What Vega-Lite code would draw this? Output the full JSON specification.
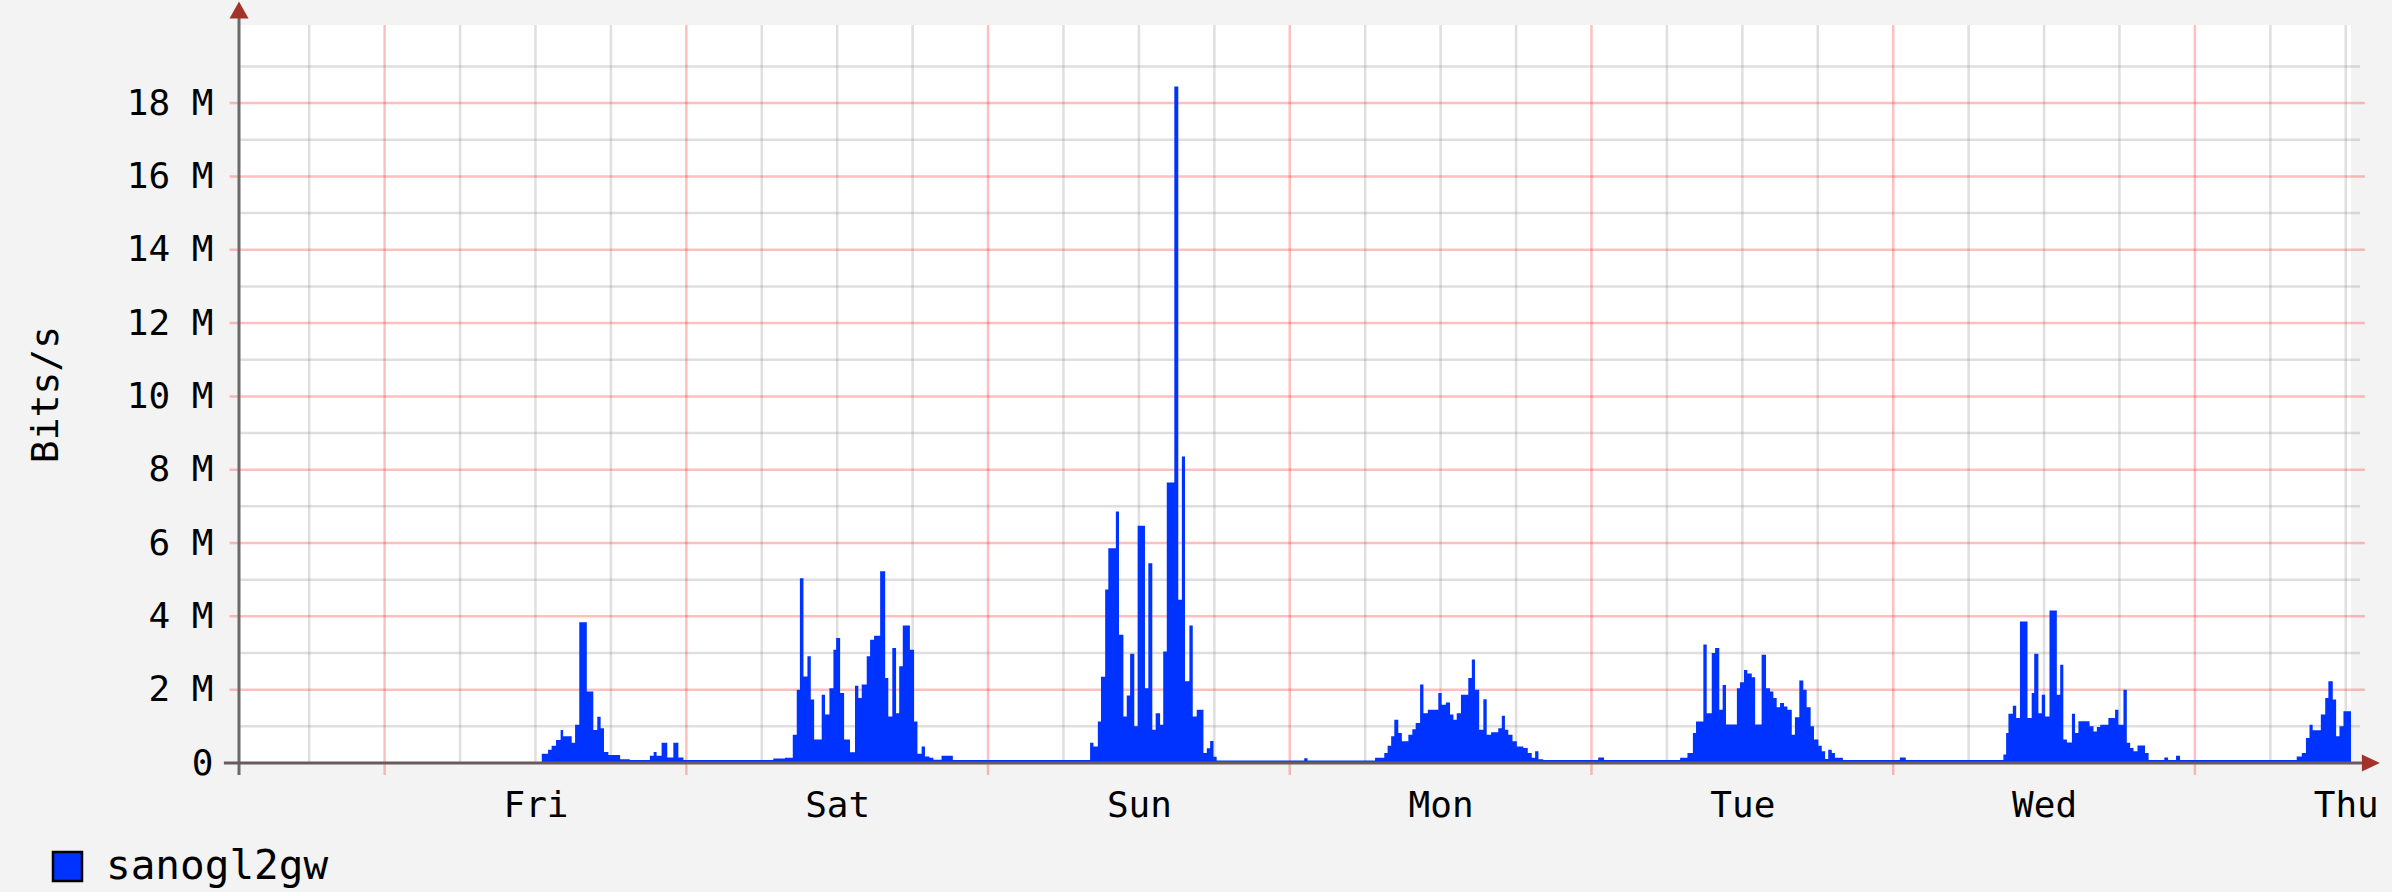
{
  "$schema": "https://vega.github.io/schema/vega-lite/v6.json",
  "width": 2112,
  "height": 738,
  "autosize": {"type": "none"},
  "padding": {"left": 239, "top": 25, "right": 41, "bottom": 129},
  "background": "#f3f3f3",
  "config": {"view": {"fill": "white", "stroke": null}, "font": "DejaVu Sans Mono"},
  "datasets": {
    "series": [
      {"t": "2008-07-31T12:25:00Z", "v": 0},
      {"t": "2008-08-01T12:30:00Z", "v": 0.25},
      {"t": "2008-08-01T13:00:00Z", "v": 0.36},
      {"t": "2008-08-01T13:17:00Z", "v": 0.47},
      {"t": "2008-08-01T13:38:00Z", "v": 0.63},
      {"t": "2008-08-01T14:00:00Z", "v": 0.9},
      {"t": "2008-08-01T14:12:00Z", "v": 0.73},
      {"t": "2008-08-01T14:53:00Z", "v": 0.55},
      {"t": "2008-08-01T15:09:00Z", "v": 1.04},
      {"t": "2008-08-01T15:29:00Z", "v": 3.84},
      {"t": "2008-08-01T16:05:00Z", "v": 1.95},
      {"t": "2008-08-01T16:36:00Z", "v": 0.9},
      {"t": "2008-08-01T16:55:00Z", "v": 1.26},
      {"t": "2008-08-01T17:11:00Z", "v": 0.95},
      {"t": "2008-08-01T17:27:00Z", "v": 0.3},
      {"t": "2008-08-01T17:48:00Z", "v": 0.22},
      {"t": "2008-08-01T18:44:00Z", "v": 0.1},
      {"t": "2008-08-01T19:30:00Z", "v": 0.08},
      {"t": "2008-08-01T21:06:00Z", "v": 0.2},
      {"t": "2008-08-01T21:24:00Z", "v": 0.3},
      {"t": "2008-08-01T21:38:00Z", "v": 0.2},
      {"t": "2008-08-01T22:02:00Z", "v": 0.55},
      {"t": "2008-08-01T22:29:00Z", "v": 0.15},
      {"t": "2008-08-01T22:58:00Z", "v": 0.55},
      {"t": "2008-08-01T23:22:00Z", "v": 0.15},
      {"t": "2008-08-01T23:46:00Z", "v": 0.08},
      {"t": "2008-08-02T06:55:00Z", "v": 0.12},
      {"t": "2008-08-02T07:51:00Z", "v": 0.14},
      {"t": "2008-08-02T08:28:00Z", "v": 0.77},
      {"t": "2008-08-02T08:47:00Z", "v": 2.0},
      {"t": "2008-08-02T09:02:00Z", "v": 5.04},
      {"t": "2008-08-02T09:19:00Z", "v": 2.36},
      {"t": "2008-08-02T09:38:00Z", "v": 2.91},
      {"t": "2008-08-02T09:54:00Z", "v": 1.73},
      {"t": "2008-08-02T10:10:00Z", "v": 0.64},
      {"t": "2008-08-02T10:46:00Z", "v": 1.86},
      {"t": "2008-08-02T11:02:00Z", "v": 1.32},
      {"t": "2008-08-02T11:23:00Z", "v": 2.04},
      {"t": "2008-08-02T11:42:00Z", "v": 3.09},
      {"t": "2008-08-02T11:55:00Z", "v": 3.41},
      {"t": "2008-08-02T12:14:00Z", "v": 1.91},
      {"t": "2008-08-02T12:33:00Z", "v": 0.64},
      {"t": "2008-08-02T13:01:00Z", "v": 0.29},
      {"t": "2008-08-02T13:25:00Z", "v": 2.11},
      {"t": "2008-08-02T13:41:00Z", "v": 1.77},
      {"t": "2008-08-02T13:57:00Z", "v": 2.14},
      {"t": "2008-08-02T14:21:00Z", "v": 2.91},
      {"t": "2008-08-02T14:37:00Z", "v": 3.36},
      {"t": "2008-08-02T14:56:00Z", "v": 3.47},
      {"t": "2008-08-02T15:25:00Z", "v": 5.23},
      {"t": "2008-08-02T15:49:00Z", "v": 2.32},
      {"t": "2008-08-02T16:04:00Z", "v": 1.27},
      {"t": "2008-08-02T16:23:00Z", "v": 3.14},
      {"t": "2008-08-02T16:41:00Z", "v": 1.36},
      {"t": "2008-08-02T16:56:00Z", "v": 2.64},
      {"t": "2008-08-02T17:13:00Z", "v": 3.75},
      {"t": "2008-08-02T17:47:00Z", "v": 3.09},
      {"t": "2008-08-02T18:07:00Z", "v": 1.13},
      {"t": "2008-08-02T18:23:00Z", "v": 0.25},
      {"t": "2008-08-02T18:43:00Z", "v": 0.45},
      {"t": "2008-08-02T18:59:00Z", "v": 0.18},
      {"t": "2008-08-02T19:20:00Z", "v": 0.14},
      {"t": "2008-08-02T19:39:00Z", "v": 0.09},
      {"t": "2008-08-02T20:18:00Z", "v": 0.2},
      {"t": "2008-08-02T21:12:00Z", "v": 0.08},
      {"t": "2008-08-03T08:07:00Z", "v": 0.55},
      {"t": "2008-08-03T08:23:00Z", "v": 0.45},
      {"t": "2008-08-03T08:44:00Z", "v": 1.13},
      {"t": "2008-08-03T08:59:00Z", "v": 2.35},
      {"t": "2008-08-03T09:19:00Z", "v": 4.73},
      {"t": "2008-08-03T09:34:00Z", "v": 5.86},
      {"t": "2008-08-03T10:10:00Z", "v": 6.86},
      {"t": "2008-08-03T10:25:00Z", "v": 3.5},
      {"t": "2008-08-03T10:46:00Z", "v": 1.27},
      {"t": "2008-08-03T11:02:00Z", "v": 1.84},
      {"t": "2008-08-03T11:18:00Z", "v": 2.98},
      {"t": "2008-08-03T11:38:00Z", "v": 1.0},
      {"t": "2008-08-03T11:54:00Z", "v": 6.47},
      {"t": "2008-08-03T12:29:00Z", "v": 2.04},
      {"t": "2008-08-03T12:45:00Z", "v": 5.45},
      {"t": "2008-08-03T13:04:00Z", "v": 0.91},
      {"t": "2008-08-03T13:20:00Z", "v": 1.36},
      {"t": "2008-08-03T13:41:00Z", "v": 1.04},
      {"t": "2008-08-03T13:56:00Z", "v": 3.04},
      {"t": "2008-08-03T14:13:00Z", "v": 7.65},
      {"t": "2008-08-03T14:49:00Z", "v": 18.45},
      {"t": "2008-08-03T15:08:00Z", "v": 4.45},
      {"t": "2008-08-03T15:25:00Z", "v": 8.36},
      {"t": "2008-08-03T15:40:00Z", "v": 2.23},
      {"t": "2008-08-03T16:01:00Z", "v": 3.75},
      {"t": "2008-08-03T16:17:00Z", "v": 1.27},
      {"t": "2008-08-03T16:36:00Z", "v": 1.45},
      {"t": "2008-08-03T17:08:00Z", "v": 0.27},
      {"t": "2008-08-03T17:24:00Z", "v": 0.4},
      {"t": "2008-08-03T17:40:00Z", "v": 0.6},
      {"t": "2008-08-03T17:56:00Z", "v": 0.17},
      {"t": "2008-08-03T18:11:00Z", "v": 0.07},
      {"t": "2008-08-04T01:09:00Z", "v": 0.13},
      {"t": "2008-08-04T01:25:00Z", "v": 0.07},
      {"t": "2008-08-04T06:47:00Z", "v": 0.14},
      {"t": "2008-08-04T07:31:00Z", "v": 0.27},
      {"t": "2008-08-04T07:47:00Z", "v": 0.47},
      {"t": "2008-08-04T08:04:00Z", "v": 0.73},
      {"t": "2008-08-04T08:19:00Z", "v": 1.18},
      {"t": "2008-08-04T08:38:00Z", "v": 0.82},
      {"t": "2008-08-04T08:55:00Z", "v": 0.59},
      {"t": "2008-08-04T09:26:00Z", "v": 0.77},
      {"t": "2008-08-04T09:45:00Z", "v": 0.92},
      {"t": "2008-08-04T10:01:00Z", "v": 1.09},
      {"t": "2008-08-04T10:22:00Z", "v": 2.14},
      {"t": "2008-08-04T10:38:00Z", "v": 1.36},
      {"t": "2008-08-04T10:59:00Z", "v": 1.45},
      {"t": "2008-08-04T11:49:00Z", "v": 1.91},
      {"t": "2008-08-04T12:05:00Z", "v": 1.59},
      {"t": "2008-08-04T12:25:00Z", "v": 1.65},
      {"t": "2008-08-04T12:45:00Z", "v": 1.32},
      {"t": "2008-08-04T13:01:00Z", "v": 1.18},
      {"t": "2008-08-04T13:17:00Z", "v": 1.36},
      {"t": "2008-08-04T13:37:00Z", "v": 1.86},
      {"t": "2008-08-04T14:12:00Z", "v": 2.32},
      {"t": "2008-08-04T14:29:00Z", "v": 2.82},
      {"t": "2008-08-04T14:44:00Z", "v": 2.0},
      {"t": "2008-08-04T15:04:00Z", "v": 0.91},
      {"t": "2008-08-04T15:24:00Z", "v": 1.74},
      {"t": "2008-08-04T15:40:00Z", "v": 0.77},
      {"t": "2008-08-04T16:01:00Z", "v": 0.84},
      {"t": "2008-08-04T16:35:00Z", "v": 0.95},
      {"t": "2008-08-04T16:52:00Z", "v": 1.29},
      {"t": "2008-08-04T17:07:00Z", "v": 0.91},
      {"t": "2008-08-04T17:23:00Z", "v": 0.77},
      {"t": "2008-08-04T17:43:00Z", "v": 0.59},
      {"t": "2008-08-04T18:04:00Z", "v": 0.45},
      {"t": "2008-08-04T18:35:00Z", "v": 0.41},
      {"t": "2008-08-04T18:56:00Z", "v": 0.27},
      {"t": "2008-08-04T19:15:00Z", "v": 0.14},
      {"t": "2008-08-04T19:31:00Z", "v": 0.32},
      {"t": "2008-08-04T19:47:00Z", "v": 0.1},
      {"t": "2008-08-04T20:10:00Z", "v": 0.08},
      {"t": "2008-08-05T00:32:00Z", "v": 0.15},
      {"t": "2008-08-05T01:00:00Z", "v": 0.08},
      {"t": "2008-08-05T07:03:00Z", "v": 0.14},
      {"t": "2008-08-05T07:38:00Z", "v": 0.27},
      {"t": "2008-08-05T08:04:00Z", "v": 0.82},
      {"t": "2008-08-05T08:19:00Z", "v": 1.13},
      {"t": "2008-08-05T08:54:00Z", "v": 3.23},
      {"t": "2008-08-05T09:10:00Z", "v": 1.36},
      {"t": "2008-08-05T09:34:00Z", "v": 3.0},
      {"t": "2008-08-05T09:50:00Z", "v": 3.14},
      {"t": "2008-08-05T10:10:00Z", "v": 1.45},
      {"t": "2008-08-05T10:26:00Z", "v": 2.13},
      {"t": "2008-08-05T10:42:00Z", "v": 1.05},
      {"t": "2008-08-05T11:34:00Z", "v": 2.04},
      {"t": "2008-08-05T11:49:00Z", "v": 2.2},
      {"t": "2008-08-05T12:08:00Z", "v": 2.54},
      {"t": "2008-08-05T12:24:00Z", "v": 2.44},
      {"t": "2008-08-05T12:45:00Z", "v": 2.34},
      {"t": "2008-08-05T13:01:00Z", "v": 1.05},
      {"t": "2008-08-05T13:32:00Z", "v": 2.95},
      {"t": "2008-08-05T13:53:00Z", "v": 2.04},
      {"t": "2008-08-05T14:12:00Z", "v": 1.95},
      {"t": "2008-08-05T14:28:00Z", "v": 1.77},
      {"t": "2008-08-05T14:44:00Z", "v": 1.52},
      {"t": "2008-08-05T15:00:00Z", "v": 1.64},
      {"t": "2008-08-05T15:19:00Z", "v": 1.54},
      {"t": "2008-08-05T15:35:00Z", "v": 1.45},
      {"t": "2008-08-05T15:56:00Z", "v": 0.77},
      {"t": "2008-08-05T16:11:00Z", "v": 1.25},
      {"t": "2008-08-05T16:32:00Z", "v": 2.25},
      {"t": "2008-08-05T16:51:00Z", "v": 2.0},
      {"t": "2008-08-05T17:07:00Z", "v": 1.52},
      {"t": "2008-08-05T17:26:00Z", "v": 1.0},
      {"t": "2008-08-05T17:42:00Z", "v": 0.64},
      {"t": "2008-08-05T18:03:00Z", "v": 0.47},
      {"t": "2008-08-05T18:19:00Z", "v": 0.32},
      {"t": "2008-08-05T18:35:00Z", "v": 0.11},
      {"t": "2008-08-05T18:50:00Z", "v": 0.36},
      {"t": "2008-08-05T19:07:00Z", "v": 0.27},
      {"t": "2008-08-05T19:22:00Z", "v": 0.14},
      {"t": "2008-08-05T20:00:00Z", "v": 0.08},
      {"t": "2008-08-06T00:32:00Z", "v": 0.15},
      {"t": "2008-08-06T01:00:00Z", "v": 0.08},
      {"t": "2008-08-06T08:46:00Z", "v": 0.23},
      {"t": "2008-08-06T08:59:00Z", "v": 0.82},
      {"t": "2008-08-06T09:10:00Z", "v": 1.34},
      {"t": "2008-08-06T09:31:00Z", "v": 1.56},
      {"t": "2008-08-06T09:47:00Z", "v": 1.23},
      {"t": "2008-08-06T10:05:00Z", "v": 3.86},
      {"t": "2008-08-06T10:41:00Z", "v": 1.23},
      {"t": "2008-08-06T11:01:00Z", "v": 1.91},
      {"t": "2008-08-06T11:13:00Z", "v": 2.98},
      {"t": "2008-08-06T11:33:00Z", "v": 1.36},
      {"t": "2008-08-06T11:49:00Z", "v": 1.86},
      {"t": "2008-08-06T12:05:00Z", "v": 1.27},
      {"t": "2008-08-06T12:26:00Z", "v": 4.16},
      {"t": "2008-08-06T13:01:00Z", "v": 1.86},
      {"t": "2008-08-06T13:17:00Z", "v": 2.68},
      {"t": "2008-08-06T13:32:00Z", "v": 0.64},
      {"t": "2008-08-06T13:49:00Z", "v": 0.56},
      {"t": "2008-08-06T14:13:00Z", "v": 1.34},
      {"t": "2008-08-06T14:28:00Z", "v": 0.82},
      {"t": "2008-08-06T14:44:00Z", "v": 1.14},
      {"t": "2008-08-06T15:37:00Z", "v": 1.0},
      {"t": "2008-08-06T15:56:00Z", "v": 0.86},
      {"t": "2008-08-06T16:12:00Z", "v": 0.98},
      {"t": "2008-08-06T16:28:00Z", "v": 1.04},
      {"t": "2008-08-06T17:07:00Z", "v": 1.23},
      {"t": "2008-08-06T17:39:00Z", "v": 1.45},
      {"t": "2008-08-06T17:55:00Z", "v": 1.04},
      {"t": "2008-08-06T18:19:00Z", "v": 2.0},
      {"t": "2008-08-06T18:35:00Z", "v": 0.55},
      {"t": "2008-08-06T18:51:00Z", "v": 0.41},
      {"t": "2008-08-06T19:07:00Z", "v": 0.32},
      {"t": "2008-08-06T19:26:00Z", "v": 0.48},
      {"t": "2008-08-06T20:02:00Z", "v": 0.27},
      {"t": "2008-08-06T20:19:00Z", "v": 0.08},
      {"t": "2008-08-06T21:34:00Z", "v": 0.15},
      {"t": "2008-08-06T21:52:00Z", "v": 0.08},
      {"t": "2008-08-06T22:30:00Z", "v": 0.2},
      {"t": "2008-08-06T22:49:00Z", "v": 0.08},
      {"t": "2008-08-07T08:06:00Z", "v": 0.18},
      {"t": "2008-08-07T08:30:00Z", "v": 0.27},
      {"t": "2008-08-07T08:50:00Z", "v": 0.68},
      {"t": "2008-08-07T09:07:00Z", "v": 1.04},
      {"t": "2008-08-07T09:22:00Z", "v": 0.89},
      {"t": "2008-08-07T10:01:00Z", "v": 1.32},
      {"t": "2008-08-07T10:22:00Z", "v": 1.77},
      {"t": "2008-08-07T10:37:00Z", "v": 2.23},
      {"t": "2008-08-07T10:58:00Z", "v": 1.73},
      {"t": "2008-08-07T11:14:00Z", "v": 0.73},
      {"t": "2008-08-07T11:30:00Z", "v": 1.0},
      {"t": "2008-08-07T11:49:00Z", "v": 1.41},
      {"t": "2008-08-07T12:25:00Z", "v": 1.41}
    ],
    "minorV": [
      {"t": "2008-07-31T18:00:00Z"},
      {"t": "2008-08-01T06:00:00Z"}, {"t": "2008-08-01T12:00:00Z"}, {"t": "2008-08-01T18:00:00Z"},
      {"t": "2008-08-02T06:00:00Z"}, {"t": "2008-08-02T12:00:00Z"}, {"t": "2008-08-02T18:00:00Z"},
      {"t": "2008-08-03T06:00:00Z"}, {"t": "2008-08-03T12:00:00Z"}, {"t": "2008-08-03T18:00:00Z"},
      {"t": "2008-08-04T06:00:00Z"}, {"t": "2008-08-04T12:00:00Z"}, {"t": "2008-08-04T18:00:00Z"},
      {"t": "2008-08-05T06:00:00Z"}, {"t": "2008-08-05T12:00:00Z"}, {"t": "2008-08-05T18:00:00Z"},
      {"t": "2008-08-06T06:00:00Z"}, {"t": "2008-08-06T12:00:00Z"}, {"t": "2008-08-06T18:00:00Z"},
      {"t": "2008-08-07T06:00:00Z"}, {"t": "2008-08-07T12:00:00Z"}
    ],
    "majorV": [
      {"t": "2008-08-01T00:00:00Z"}, {"t": "2008-08-02T00:00:00Z"}, {"t": "2008-08-03T00:00:00Z"},
      {"t": "2008-08-04T00:00:00Z"}, {"t": "2008-08-05T00:00:00Z"}, {"t": "2008-08-06T00:00:00Z"},
      {"t": "2008-08-07T00:00:00Z"}
    ],
    "minorH": [{"v": 1}, {"v": 3}, {"v": 5}, {"v": 7}, {"v": 9}, {"v": 11}, {"v": 13}, {"v": 15}, {"v": 17}, {"v": 19}],
    "majorH": [{"v": 2}, {"v": 4}, {"v": 6}, {"v": 8}, {"v": 10}, {"v": 12}, {"v": 14}, {"v": 16}, {"v": 18}],
    "one": [{"k": 1}]
  },
  "layer": [
    {
      "data": {"name": "minorV"},
      "mark": {"type": "rule", "color": "#808080", "opacity": 0.25, "strokeWidth": 2.5},
      "encoding": {
        "x": {"field": "t", "type": "temporal", "scale": {"type": "utc", "domain": [{"year": 2008, "month": 7, "date": 31, "hours": 12, "minutes": 25, "utc": true}, {"year": 2008, "month": 8, "date": 7, "hours": 12, "minutes": 25, "utc": true}]}},
        "y": {"datum": 0, "type": "quantitative", "scale": {"domain": [0, 20.13], "nice": false, "zero": false}},
        "y2": {"datum": 20.13}
      }
    },
    {
      "data": {"name": "minorH"},
      "mark": {"type": "rule", "color": "#808080", "opacity": 0.25, "strokeWidth": 2.5},
      "encoding": {
        "y": {"field": "v", "type": "quantitative"},
        "x": {"datum": {"year": 2008, "month": 7, "date": 31, "hours": 12, "minutes": 25, "utc": true}, "type": "temporal"},
        "x2": {"datum": {"year": 2008, "month": 8, "date": 7, "hours": 13, "minutes": 8, "utc": true}}
      }
    },
    {
      "data": {"name": "majorV"},
      "mark": {"type": "rule", "color": "#ff0000", "opacity": 0.25, "strokeWidth": 2.5},
      "encoding": {
        "x": {"field": "t", "type": "temporal"},
        "y": {"datum": -0.33, "type": "quantitative"},
        "y2": {"datum": 20.13}
      }
    },
    {
      "data": {"name": "majorH"},
      "mark": {"type": "rule", "color": "#ff0000", "opacity": 0.25, "strokeWidth": 2.5},
      "encoding": {
        "y": {"field": "v", "type": "quantitative"},
        "x": {"datum": {"year": 2008, "month": 7, "date": 31, "hours": 11, "minutes": 40, "utc": true}, "type": "temporal"},
        "x2": {"datum": {"year": 2008, "month": 8, "date": 7, "hours": 13, "minutes": 31, "utc": true}}
      }
    },
    {
      "data": {"name": "series"},
      "mark": {"type": "area", "interpolate": "step-after"},
      "encoding": {
        "x": {
          "field": "t", "type": "temporal",
          "scale": {"type": "utc", "domain": [{"year": 2008, "month": 7, "date": 31, "hours": 12, "minutes": 25, "utc": true}, {"year": 2008, "month": 8, "date": 7, "hours": 12, "minutes": 25, "utc": true}]},
          "axis": {
            "values": [1217592000000, 1217678400000, 1217764800000, 1217851200000, 1217937600000, 1218024000000, 1218110400000],
            "labelExpr": "utcFormat(datum.value, '%a')",
            "ticks": false, "domain": false, "grid": false, "title": null,
            "labelFlush": false, "labelOverlap": false, "labelBound": false,
            "labelFont": "DejaVu Sans Mono", "labelFontSize": 36, "labelColor": "#000000", "labelPadding": 25
          }
        },
        "y": {
          "field": "v", "type": "quantitative",
          "scale": {"domain": [0, 20.13], "nice": false, "zero": false},
          "axis": {
            "values": [0, 2, 4, 6, 8, 10, 12, 14, 16, 18],
            "labelExpr": "datum.value == 0 ? '0' : datum.value + ' M'",
            "ticks": false, "domain": false, "grid": false,
            "labelFont": "DejaVu Sans Mono", "labelFontSize": 36, "labelColor": "#000000", "labelPadding": 26,
            "title": "Bits/s", "titleFont": "DejaVu Sans Mono", "titleFontSize": 38, "titleFontWeight": "normal", "titleColor": "#000000",
            "titleX": -193, "titleY": 369, "titleAngle": 270, "titleAlign": "center", "titleBaseline": "middle"
          }
        },
        "color": {
          "datum": "sanogl2gw",
          "scale": {"range": ["#0033ff"]},
          "legend": {
            "orient": "none", "legendX": -192, "legendY": 821, "title": null, "padding": 0,
            "symbolType": "square", "symbolSize": 841, "symbolStrokeColor": "#000000", "symbolStrokeWidth": 2.5, "symbolOpacity": 1,
            "labelFont": "DejaVu Sans Mono", "labelFontSize": 41, "labelColor": "#000000", "labelOffset": 18, "labelLimit": 0
          }
        }
      }
    },
    {
      "data": {"name": "one"},
      "mark": {"type": "rule", "color": "#6a6a6a", "strokeWidth": 3},
      "encoding": {
        "x": {"datum": {"year": 2008, "month": 7, "date": 31, "hours": 12, "minutes": 25, "utc": true}, "type": "temporal"},
        "y": {"datum": -0.33, "type": "quantitative"},
        "y2": {"datum": 20.33}
      }
    },
    {
      "data": {"name": "one"},
      "mark": {"type": "rule", "color": "#6a5a5a", "strokeWidth": 3},
      "encoding": {
        "y": {"datum": 0, "type": "quantitative"},
        "x": {"datum": {"year": 2008, "month": 7, "date": 31, "hours": 11, "minutes": 13, "utc": true}, "type": "temporal"},
        "x2": {"datum": {"year": 2008, "month": 8, "date": 7, "hours": 13, "minutes": 17, "utc": true}}
      }
    },
    {
      "data": {"name": "one"},
      "mark": {"type": "point", "shape": "M-1,0.9L0,-0.9L1,0.9Z", "filled": true, "size": 361, "color": "#a1332b", "opacity": 1},
      "encoding": {
        "x": {"datum": {"year": 2008, "month": 7, "date": 31, "hours": 12, "minutes": 25, "utc": true}, "type": "temporal"},
        "y": {"datum": 20.54, "type": "quantitative"}
      }
    },
    {
      "data": {"name": "one"},
      "mark": {"type": "point", "shape": "M-1,-0.95L1,0L-1,0.95Z", "filled": true, "size": 324, "color": "#a1332b", "opacity": 1},
      "encoding": {
        "x": {"datum": {"year": 2008, "month": 8, "date": 7, "hours": 14, "minutes": 0, "utc": true}, "type": "temporal"},
        "y": {"datum": 0, "type": "quantitative"}
      }
    }
  ]
}
